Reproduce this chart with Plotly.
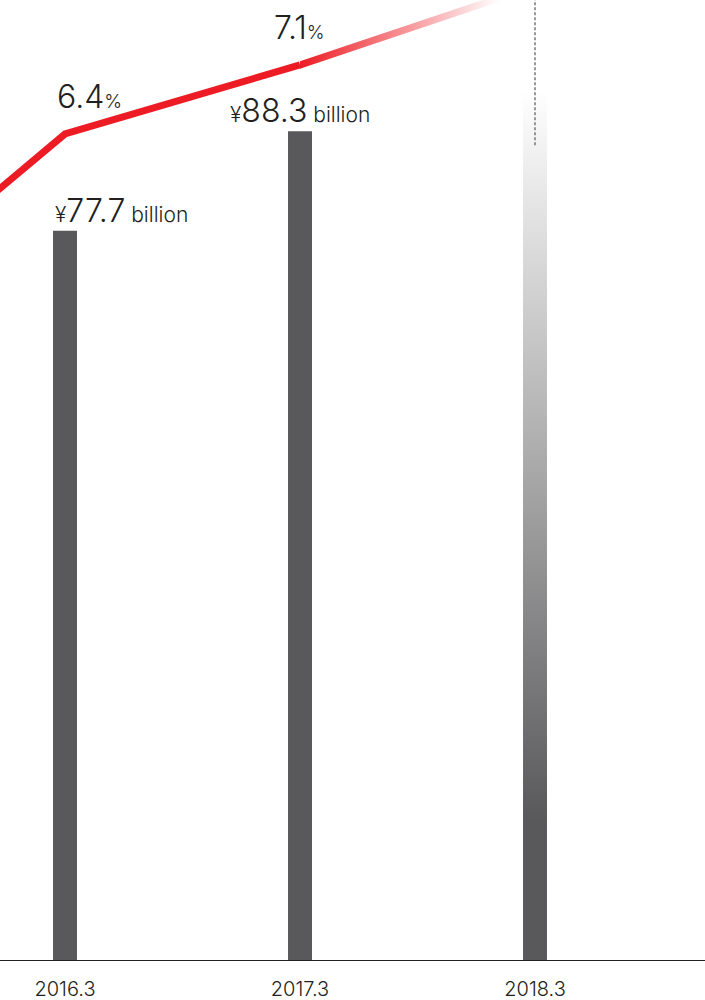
import plotly.graph_objects as go

# Fiscal years (March year-end) and series values
fiscal_years = ["2015.3", "2016.3", "2017.3", "2018.3"]
margin_pct = [4.4, 6.4, 7.1, 7.9]            # red line, %
bar_years = ["2016.3", "2017.3", "2018.3"]
net_sales = [77.7, 88.3, 103.0]              # ¥ billion
sales_labels = ["77.7", "88.3"]
margin_labels = ["6.4", "7.1"]
guide_floor = 86.8                           # lower end of the dotted guide, ¥ billion

# Styling
BAR_COLOR = "#59595b"
RED = "#ed1c24"
TEXT = "#231f20"
FONT = "Inter"
LINE_W = 7
BAR_W = 0.102
X_RANGE = [-0.2766, 2.7234]
Y_RANGE = [0, 102.29]
Y2_RANGE = [-1.98, 7.759]
PLOT_H = 960

pos = {yr: i - 1 for i, yr in enumerate(fiscal_years)}
bx = [pos[y] for y in bar_years]

fig = go.Figure()

# Solid bars
fig.add_trace(go.Bar(
    x=bx[:2], y=net_sales[:2], width=BAR_W,
    marker=dict(color=BAR_COLOR, line=dict(width=0)),
    hoverinfo="skip",
))

# Latest bar, fading upward
hw = BAR_W / 2
x3, v3 = bx[2], net_sales[2]
fig.add_trace(go.Scatter(
    x=[x3 - hw, x3 + hw, x3 + hw, x3 - hw, x3 - hw],
    y=[0, 0, v3, v3, 0],
    mode="lines", line=dict(width=0), fill="toself",
    fillgradient=dict(type="vertical",
                      colorscale=[[0, BAR_COLOR], [1, "#ffffff"]],
                      start=14.9, stop=92.7),
    hoverinfo="skip",
))

# Dotted guide above the latest bar
fig.add_trace(go.Scatter(
    x=[x3, x3], y=[guide_floor, Y_RANGE[1] + 10],
    mode="lines", line=dict(color="#6d6e71", width=1.4, dash="3px,2px"),
    hoverinfo="skip",
))

# Margin line: solid part
lx = [pos[y] for y in fiscal_years]
fig.add_trace(go.Scatter(
    x=lx[:3], y=margin_pct[:3], yaxis="y2",
    mode="lines", line=dict(color=RED, width=LINE_W),
    hoverinfo="skip",
))

# Margin line: last segment fading to white
px_per_pct = PLOT_H / (Y2_RANGE[1] - Y2_RANGE[0])
slope_px = (margin_pct[3] - margin_pct[2]) * px_per_pct / 235.0
h = (LINE_W / 2) * (1 + slope_px ** 2) ** 0.5 / px_per_pct
xa, xb = lx[2], lx[3]
ya, yb = margin_pct[2], margin_pct[3]
fig.add_trace(go.Scatter(
    x=[xa, xb, xb, xa, xa],
    y=[ya - h, yb - h, yb + h, ya + h, ya - h],
    yaxis="y2", mode="lines", line=dict(width=0), fill="toself",
    fillgradient=dict(type="horizontal",
                      colorscale=[[0, RED], [1, "#ffffff"]],
                      start=xa, stop=xa + 0.85),
    hoverinfo="skip",
))

# Value labels
annotations = []
def small(s, size):
    return "<span style='font-size:%dpx'>%s</span>" % (size, s)

for i, (lbl, val) in enumerate(zip(sales_labels, net_sales[:2])):
    annotations.append(dict(
        x=bx[i], y=val, xref="x", yref="y",
        text=small("¥", 21) + lbl + small(" billion", 21),
        showarrow=False, xanchor="center", yanchor="bottom",
        xshift=(56 if i == 0 else 0), yshift=-1,
        font=dict(family=FONT, size=32, color=TEXT, weight=350),
    ))
for i, (lbl, val) in enumerate(zip(margin_labels, margin_pct[1:3])):
    annotations.append(dict(
        x=lx[1 + i], y=val, xref="x", yref="y2",
        text=lbl + small("%", 19),
        showarrow=False, xanchor="center", yanchor="bottom",
        xshift=(24 if i == 0 else -1), yshift=16,
        font=dict(family=FONT, size=32, color=TEXT, weight=350),
    ))

fig.update_layout(
    width=705, height=1000,
    margin=dict(l=0, r=0, t=0, b=1000 - PLOT_H),
    paper_bgcolor="white", plot_bgcolor="white",
    showlegend=False,
    annotations=annotations,
    xaxis=dict(
        range=X_RANGE, tickvals=bx, ticktext=bar_years,
        showgrid=False, zeroline=False,
        showline=True, linecolor=TEXT, linewidth=1.2,
        ticks="outside", ticklen=11, tickcolor="rgba(0,0,0,0)",
        tickfont=dict(family=FONT, size=20, color=TEXT, weight=350),
    ),
    yaxis=dict(range=Y_RANGE, visible=False, fixedrange=True),
    yaxis2=dict(range=Y2_RANGE, visible=False, overlaying="y"),
)

fig.write_html("out.html")
